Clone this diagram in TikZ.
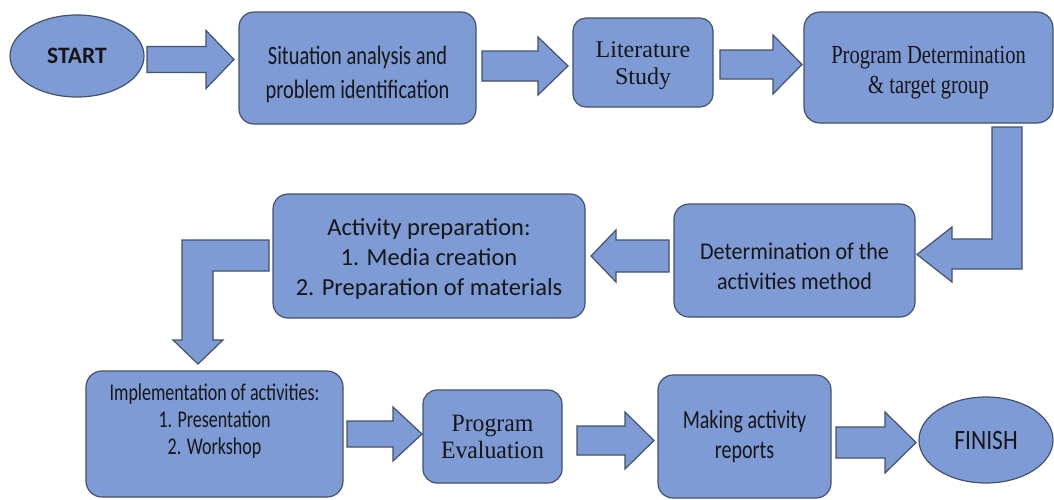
\documentclass[tikz,border=0pt]{standalone}
\usepackage{fontspec}
\setmainfont{Carlito}
\newfontfamily\calN{Carlito}
\newfontfamily\calS[FakeStretch=0.77]{Carlito}
\newfontfamily\calM[FakeStretch=0.92]{Carlito}
\newfontfamily\calX[FakeStretch=0.75]{Carlito}
\newfontfamily\calF[FakeStretch=0.84]{Carlito}
\newfontfamily\tmsN{Liberation Serif}
\newfontfamily\tmsS[FakeStretch=0.79]{Liberation Serif}
\newfontfamily\tmsM[FakeStretch=0.95]{Liberation Serif}
\usetikzlibrary{shapes.geometric}
\definecolor{boxfill}{RGB}{127,155,213}
\definecolor{boxline}{RGB}{66,82,110}
\definecolor{txt}{RGB}{22,22,22}
\tikzset{
  blk/.style={fill=boxfill, draw=boxline, line width=1.2pt, line join=miter},
  rbox/.style={blk, rounded corners=15pt, align=center, inner sep=0pt, text=txt},
  oval/.style={blk, ellipse, inner sep=0pt, text=txt}
}
\newcommand\padtop[1]{\rule{0pt}{#1}}
\newcommand\padbot[1]{\rule[-#1]{0pt}{#1}}
\newcommand\rblock[6]{% from x, tip x, y, shaft half, head half, head base x
  \draw[blk] (#1,#3-#4) -- (#6,#3-#4) -- (#6,#3-#5) -- (#2,#3) -- (#6,#3+#5) -- (#6,#3+#4) -- (#1,#3+#4) -- cycle;}
\begin{document}
\begin{tikzpicture}[x=1pt,y=-1pt]
\useasboundingbox (0,0) rectangle (1054,499);
\fill[white] (0,0) rectangle (1054,499);
% nodes
\node[oval, minimum width=134pt, minimum height=82pt, font={\calN\bfseries\fontsize{23.5}{28}\selectfont}] (start) at (77,56) {START};
\node[rbox, minimum width=237pt, minimum height=112pt, font={\calS\fontsize{26.5}{34}\selectfont}] (sit) at (357.5,68) {\padtop{30.5pt}Situation analysis and\\problem identification};
\node[rbox, rounded corners=13pt, minimum width=140pt, minimum height=89pt, font={\tmsN\fontsize{24}{27}\selectfont}] (lit) at (643,62.5) {\padtop{22pt}Literature\\Study};
\node[rbox, rounded corners=16pt, minimum width=249pt, minimum height=111pt, font={\tmsS\fontsize{26}{30}\selectfont}] (pdet) at (928.5,67.5) {\padtop{27.5pt}Program Determination\\\& target group};
\node[rbox, minimum width=241pt, minimum height=113pt, font={\calM\fontsize{24}{30}\selectfont}] (det) at (794.5,260.5) {\padtop{29pt}Determination of the\\activities method};
\node[rbox, minimum width=312pt, minimum height=124pt, font={\calN\fontsize{24.5}{30}\selectfont}] (act) at (429,256) {\padtop{23pt}Activity preparation:\\1. Media creation\\2. Preparation of materials};
\node[rbox, rounded corners=16pt, minimum width=257pt, minimum height=126pt, font={\calX\fontsize{24}{27}\selectfont}] (impl) at (214.5,434) {Implementation of activities:\\1. Presentation\\2. Workshop\padbot{29pt}};
\node[rbox, rounded corners=14pt, minimum width=139pt, minimum height=93pt, font={\tmsM\fontsize{25}{27}\selectfont}] (eval) at (492.5,436.5) {Program\\Evaluation};
\node[rbox, minimum width=173pt, minimum height=123pt, font={\calS\fontsize{26}{30}\selectfont}] (mak) at (744.5,436.5) {Making activity\\reports};
\node[oval, minimum width=134pt, minimum height=86pt, font={\calF\fontsize{28}{32}\selectfont}] (fin) at (986,440) {\raisebox{-6pt}{FINISH}};
% block arrows
\rblock{147}{234}{59.5}{13}{29}{206}
\rblock{482}{568}{66}{15}{29}{538}
\rblock{720}{802}{64.5}{14.5}{29.5}{773}
\rblock{669}{591}{256}{16}{26}{616}
\rblock{347}{422}{434}{13}{27}{393}
\rblock{577}{654}{440.5}{14.5}{28.5}{625}
\rblock{836}{916}{442.5}{15.5}{30.5}{885}
% L-shaped arrows
\draw[blk] (992,127) -- (1022,127) -- (1022,269) -- (952,269) -- (952,282) -- (917,254.5) -- (952,227) -- (952,239) -- (992,239) -- cycle;
\draw[blk] (269,240) -- (269,271) -- (213,271) -- (213,340) -- (223,340) -- (198,364) -- (173,340) -- (182,340) -- (182,240) -- cycle;
\end{tikzpicture}
\end{document}
